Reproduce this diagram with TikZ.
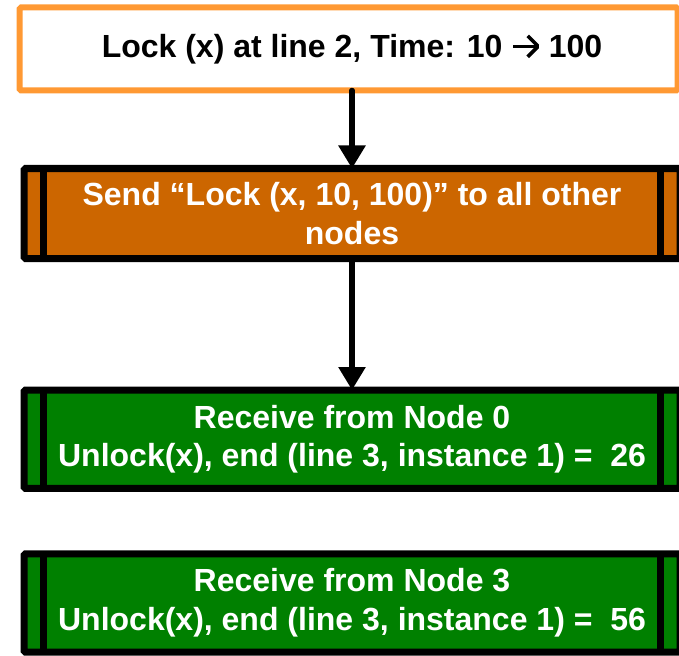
\documentclass[tikz,border=0pt]{standalone}
\usepackage{fontspec}
\setmainfont{Liberation Sans}
\usetikzlibrary{arrows.meta,calc}

\definecolor{lockorange}{HTML}{FF9933}
\definecolor{sendorange}{HTML}{CC6600}
\definecolor{recvgreen}{HTML}{008000}

% open-headed arrow used inside the lock label
\newcommand{\timearrow}{\tikz[baseline=0pt, x=1pt, y=1pt]{%
  \draw[line width=3.6pt, line cap=butt] (0,11) -- (25,11);
  \draw[line width=3.6pt, line join=miter] (14.5,0.5) -- (25,11) -- (14.5,21.5);}}

\tikzset{
  boxtext/.style={font=\fontsize{32}{38.6}\selectfont\bfseries, align=center,
    inner sep=0pt, outer sep=0pt},
  lockbox/.style={boxtext, draw=lockorange, fill=white, line width=6pt,
    rounded corners=1.5pt, text=black},
  procbox/.style={boxtext, draw=black, line width=7pt, rounded corners=1.5pt,
    text=white, minimum width=656pt},
  flow/.style={draw=black, line width=5.5pt, line cap=round,
    -{Triangle[width=26pt,length=23pt]}},
}

\begin{document}
\begin{tikzpicture}[x=1pt, y=-1pt]
  \useasboundingbox (0,0) rectangle (679,655);

  % lock request
  \node[lockbox, minimum width=658pt, minimum height=83pt] (lock) at (348.5,49)
    {\hspace*{7pt}Lock (x) at line 2, Time: 10 \timearrow\ 100};

  % broadcast step
  \node[procbox, fill=sendorange, minimum height=90pt] (send) at (352,213.5)
    {Send “Lock (x, 10, 100)” to all other\\nodes};

  % replies from the other nodes
  \node[procbox, fill=recvgreen, minimum height=98.3pt] (recv0) at (352,439.2)
    {Receive from Node 0\\Unlock(x), end (line 3, instance 1) =\ \ 26};
  \node[procbox, fill=recvgreen, minimum height=98.3pt] (recv3) at (352,602.9)
    {Receive from Node 3\\Unlock(x), end (line 3, instance 1) =\ \ 56};

  % side bars of the process boxes
  \foreach \n in {send,recv0,recv3} {
    \draw[line width=7pt] ($(\n.north west)+(19.7,0)$) -- ($(\n.south west)+(19.7,0)$);
    \draw[line width=7pt] ($(\n.north east)+(-19.7,0)$) -- ($(\n.south east)+(-19.7,0)$);
  }

  % flow arrows
  \draw[flow] (lock.south -| send.north) -- (send);
  \draw[flow] (send) -- (recv0);
\end{tikzpicture}
\end{document}
